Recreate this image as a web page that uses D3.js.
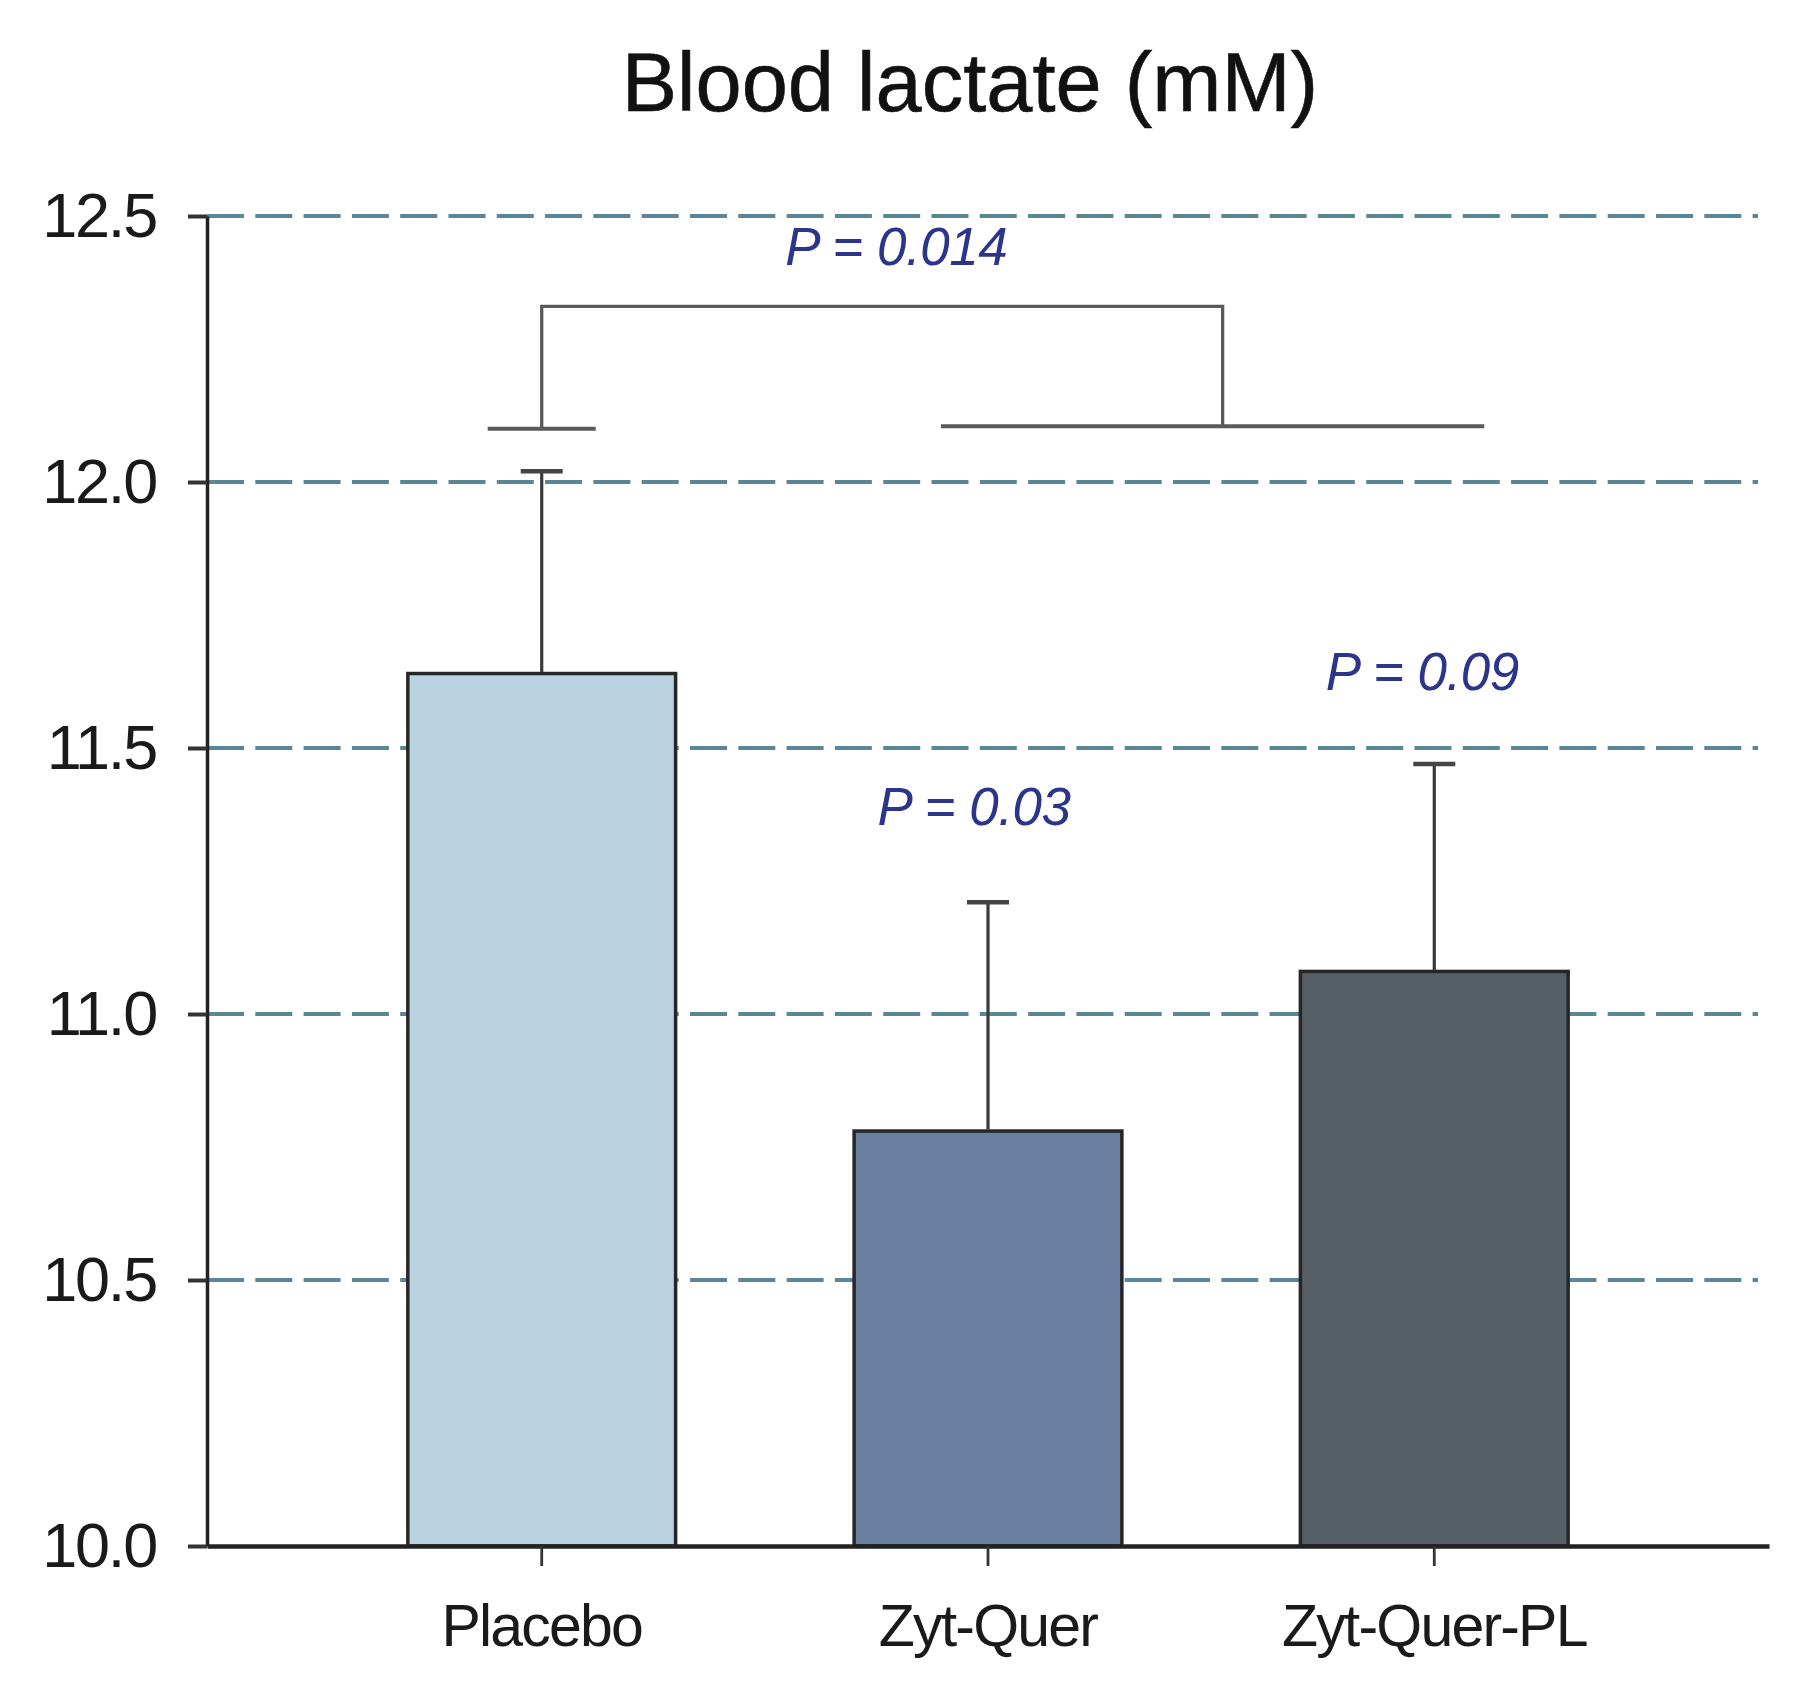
<!DOCTYPE html>
<html>
<head>
<meta charset="utf-8">
<script src="https://cdn.jsdelivr.net/npm/d3@7"></script>
<style>
  html, body { margin: 0; padding: 0; background: #ffffff; }
  svg { display: block; }
  text { font-family: "Liberation Sans", Arial, sans-serif; }
</style>
</head>
<body>
<svg id="chart" width="1809" height="1695"></svg>
<script>
// ---- data ----
const categories = ["Placebo", "Zyt-Quer", "Zyt-Quer-PL"];
const means = [11.64, 10.78, 11.08];
const sds = [0.38, 0.43, 0.39];
const barColors = ["#bad2e2", "#6a7fa0", "#575f66"];
const yTicks = [10.0, 10.5, 11.0, 11.5, 12.0, 12.5];
const gridTicks = [10.5, 11.0, 11.5, 12.0, 12.5];
const pLabels = ["P = 0.014", "P = 0.03", "P = 0.09"];
const bracketLevels = [12.10, 12.105, 12.33]; // left foot, right foot, top bar
const title = "Blood lactate (mM)";

// ---- layout ----
const svg = d3.select("#chart");
const mLeft = 207, mRight = 1769, mTop = 216, mBottom = 1546;

const y = d3.scaleLinear().domain([10, 12.5]).range([mBottom, mTop]);
const x = d3.scaleBand().domain(categories).range([mLeft, mRight])
  .paddingInner(0.4).paddingOuter(0.45);
const cx = c => x(c) + x.bandwidth() / 2;

// title
svg.append("text")
  .attr("x", 970).attr("y", 111)
  .attr("text-anchor", "middle")
  .attr("font-size", 83)
  .attr("fill", "#111")
  .attr("stroke", "#111").attr("stroke-width", 0.6)
  .text(title);

// gridlines
svg.append("g").selectAll("line").data(gridTicks).join("line")
  .attr("x1", mLeft).attr("x2", 1758)
  .attr("y1", d => y(d)).attr("y2", d => y(d))
  .attr("stroke", "#5a8797")
  .attr("stroke-width", 4.2)
  .attr("stroke-dasharray", "37 11.3");

// bars
svg.append("g").selectAll("rect").data(categories).join("rect")
  .attr("x", d => x(d))
  .attr("width", x.bandwidth())
  .attr("y", (d, i) => y(means[i]))
  .attr("height", (d, i) => y(10) - y(means[i]))
  .attr("fill", (d, i) => barColors[i])
  .attr("stroke", "#262626")
  .attr("stroke-width", 3.5);

// error bars (upper only)
const eg = svg.append("g");
eg.selectAll("line.stem").data(categories).join("line")
  .attr("class", "stem")
  .attr("x1", d => cx(d)).attr("x2", d => cx(d))
  .attr("y1", (d, i) => y(means[i]) - 1.5)
  .attr("y2", (d, i) => y(means[i] + sds[i]))
  .attr("stroke", "#3a3a3a").attr("stroke-width", 3.2);
eg.selectAll("line.cap").data(categories).join("line")
  .attr("class", "cap")
  .attr("x1", d => cx(d) - 21).attr("x2", d => cx(d) + 21)
  .attr("y1", (d, i) => y(means[i] + sds[i]))
  .attr("y2", (d, i) => y(means[i] + sds[i]))
  .attr("stroke", "#444").attr("stroke-width", 4.5);

// significance bracket
const bg = svg.append("g").attr("stroke", "#5a5a5a").attr("fill", "none");
const pc = cx(categories[0]);
const rStart = cx(categories[1]) - 47, rEnd = cx(categories[2]) + 50;
const rMid = (rStart + rEnd) / 2 + 10;
bg.append("line").attr("x1", pc - 54).attr("x2", pc + 54)
  .attr("y1", y(bracketLevels[0])).attr("y2", y(bracketLevels[0]))
  .attr("stroke-width", 4);
bg.append("line").attr("x1", rStart).attr("x2", rEnd)
  .attr("y1", y(bracketLevels[1])).attr("y2", y(bracketLevels[1]))
  .attr("stroke-width", 4);
bg.append("path")
  .attr("d", `M${pc},${y(bracketLevels[0])}V${y(bracketLevels[2])}H${rMid}V${y(bracketLevels[1])}`)
  .attr("stroke-width", 3.3);

// p-value labels
const pg = svg.append("g").attr("font-style", "italic").attr("font-size", 53)
  .attr("fill", "#2b358c").attr("text-anchor", "middle").attr("letter-spacing", -0.5);
pg.append("text").attr("x", (pc + rMid) / 2 + 14).attr("y", y(bracketLevels[2]) - 41).text(pLabels[0]);
pg.append("text").attr("x", cx(categories[1]) - 14).attr("y", y(means[1] + sds[1]) - 77).text(pLabels[1]);
pg.append("text").attr("x", cx(categories[2]) - 12).attr("y", y(means[2] + sds[2]) - 74).text(pLabels[2]);

// y axis
const yAxis = svg.append("g").attr("transform", `translate(${mLeft},0)`)
  .call(d3.axisLeft(y).tickValues(yTicks).tickFormat(d3.format(".1f"))
    .tickSize(19).tickSizeOuter(0).tickPadding(32));
yAxis.select(".domain").attr("stroke", "#222").attr("stroke-width", 3.5);
yAxis.selectAll(".tick line").attr("stroke", "#333").attr("stroke-width", 4);
yAxis.selectAll(".tick text").attr("font-size", 63).attr("fill", "#1a1a1a")
  .attr("letter-spacing", -2.2)
  .attr("font-family", "'Liberation Sans', Arial, sans-serif");

// x axis
const xAxis = svg.append("g").attr("transform", `translate(0,${mBottom})`)
  .call(d3.axisBottom(x).tickSize(20).tickSizeOuter(0).tickPadding(38));
xAxis.select(".domain").attr("stroke", "#222").attr("stroke-width", 4.5);
xAxis.selectAll(".tick line").attr("stroke", "#333").attr("stroke-width", 2.8);
xAxis.selectAll(".tick text").attr("font-size", 59).attr("fill", "#1a1a1a")
  .attr("letter-spacing", -1.8)
  .attr("font-family", "'Liberation Sans', Arial, sans-serif");
</script>
</body>
</html>
